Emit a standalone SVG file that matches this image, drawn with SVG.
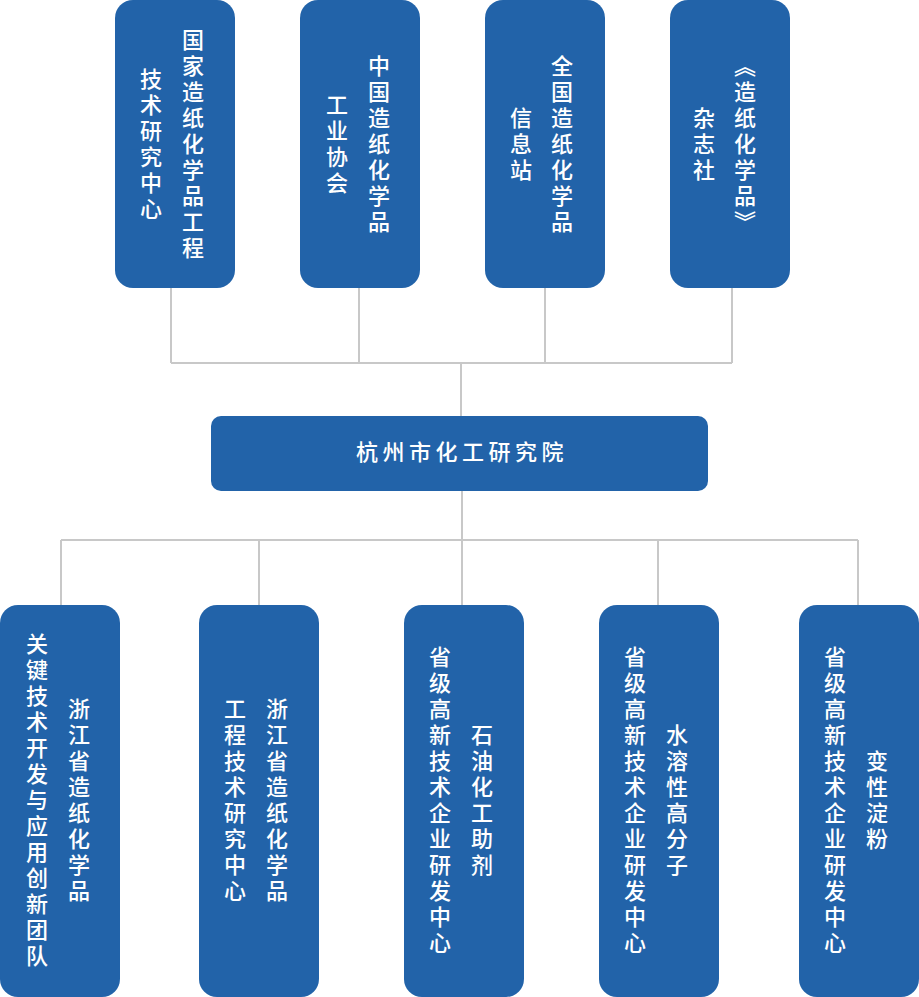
<svg xmlns="http://www.w3.org/2000/svg" width="919" height="997" viewBox="0 0 919 997">
<style>
.box{fill:#2263a9;}
.t{font-family:"Noto Sans CJK SC","Noto Sans",sans-serif;font-size:22px;fill:#ffffff;font-weight:500;}
.v{writing-mode:vertical-rl;text-anchor:middle;letter-spacing:4px;}
.h{text-anchor:middle;letter-spacing:4.5px;}
.c{stroke:#c8c8c8;stroke-width:2;fill:none;}
</style>
<g id="connectors">
<path class="c" d="M171 288V363M359 288V363M545 288V363M732 288V363M171 363H732M461 363V416"/>
<path class="c" d="M462 491V540M61 540H858M61 540V605M259 540V605M462 540V605M658 540V605M858 540V605"/>
</g>
<g id="n1"><rect class="box" x="115" y="0" width="120" height="288" rx="18"/>
<text class="t v" x="193" y="146">国家造纸化学品工程</text>
<text class="t v" x="151" y="146">技术研究中心</text></g>
<g id="n2"><rect class="box" x="300" y="0" width="120" height="288" rx="18"/>
<text class="t v" x="379" y="146">中国造纸化学品</text>
<text class="t v" x="337" y="146">工业协会</text></g>
<g id="n3"><rect class="box" x="485" y="0" width="120" height="288" rx="18"/>
<text class="t v" x="562" y="146">全国造纸化学品</text>
<text class="t v" x="521" y="146">信息站</text></g>
<g id="n4"><rect class="box" x="670" y="0" width="120" height="288" rx="18"/>
<text class="t v" x="745" y="146">《造纸化学品》</text>
<text class="t v" x="704" y="146">杂志社</text></g>
<g id="center"><rect class="box" x="211" y="416" width="497" height="75" rx="10"/>
<text class="t h" x="462" y="460">杭州市化工研究院</text></g>
<g id="b1"><rect class="box" x="0" y="605" width="120" height="392" rx="18"/>
<text class="t v" x="79" y="802">浙江省造纸化学品</text>
<text class="t v" x="37" y="802">关键技术开发与应用创新团队</text></g>
<g id="b2"><rect class="box" x="199" y="605" width="120" height="392" rx="18"/>
<text class="t v" x="277" y="802">浙江省造纸化学品</text>
<text class="t v" x="235" y="802">工程技术研究中心</text></g>
<g id="b3"><rect class="box" x="404" y="605" width="120" height="392" rx="18"/>
<text class="t v" x="482" y="802">石油化工助剂</text>
<text class="t v" x="440" y="802">省级高新技术企业研发中心</text></g>
<g id="b4"><rect class="box" x="599" y="605" width="120" height="392" rx="18"/>
<text class="t v" x="677" y="802">水溶性高分子</text>
<text class="t v" x="635" y="802">省级高新技术企业研发中心</text></g>
<g id="b5"><rect class="box" x="799" y="605" width="120" height="392" rx="18"/>
<text class="t v" x="877" y="802">变性淀粉</text>
<text class="t v" x="835" y="802">省级高新技术企业研发中心</text></g>
</svg>
